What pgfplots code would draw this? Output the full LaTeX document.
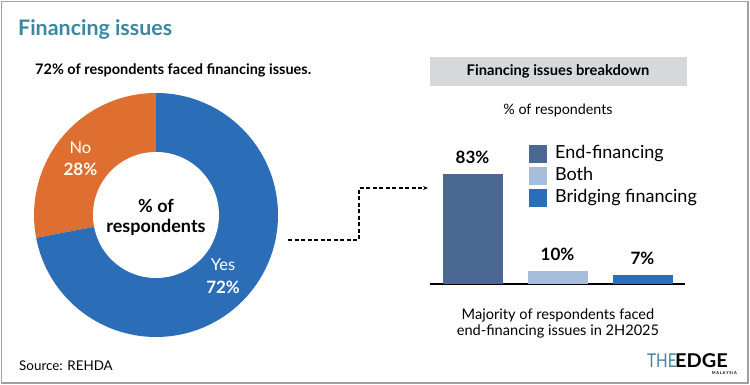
\documentclass[border=0pt]{standalone}
\usepackage{pgfplots}
\pgfplotsset{compat=1.18}
\usepackage{fontspec}
\setmainfont{Lato}
\usetikzlibrary{arrows.meta}
\definecolor{titleteal}{HTML}{3B87A1}
\definecolor{donutblue}{HTML}{2B6DB6}
\definecolor{donutorange}{HTML}{DE6F30}
\definecolor{barA}{HTML}{4A6893}
\definecolor{barB}{HTML}{A7BDDD}
\definecolor{barC}{HTML}{2A6DB8}
\definecolor{headgray}{HTML}{D6D8DA}
\definecolor{framegray}{HTML}{A0A0A0}
\newcommand{\fs}[1]{\fontsize{#1}{#1}\selectfont}
\def\yesval{72}
\def\noval{28}
\pgfmathsetmacro\noDelta{\noval*3.6}
\pgfmathsetmacro\yesDelta{-\yesval*3.6}
\begin{document}
\begin{tikzpicture}
\begin{scope}[x=1pt,y=1pt]
\path[use as bounding box] (0,0) rectangle (750,385);
\draw[framegray,line width=1.2pt] (1.5,2) rectangle (748,383.5);
% titles
\node[anchor=base west,inner sep=0,text=titleteal,font=\bfseries\fs{21.4}] at (18,349) {Financing issues};
\node[anchor=base west,inner sep=0,font=\bfseries\fs{14.5}] at (35,310) {72\% of respondents faced financing issues.};
\node[anchor=base west,inner sep=0,font=\fs{13.4}] at (19,14) {Source: REHDA};
% header box
\fill[headgray] (430,299) rectangle (687,328);
\node[font=\bfseries\fs{14.7}] at (558,313.5) {Financing issues breakdown};
\node[font=\fs{14.3}] at (558,275) {\% of respondents};
\node[font=\fs{14.6}] at (558,70) {Majority of respondents faced};
\node[font=\fs{14.6}] at (558,54) {end-financing issues in 2H2025};
% arrow
\draw[line width=1.3pt,dash pattern=on 4pt off 2.5pt,-{Stealth[length=5pt,width=4pt]}] (288,145) -- (359,145) -- (359,197) -- (428,197);
% logo
\node[anchor=base west,inner sep=0,text=titleteal,font=\fs{19}] at (647,17) {\addfontfeatures{FakeStretch=0.8}THE};
\node[anchor=base west,inner sep=0,font=\bfseries\fs{19}] at (675,17) {\addfontfeatures{FakeStretch=1.05}EDGE};
\node[anchor=base east,inner sep=0,font=\bfseries\fs{4}] at (737,10) {M\,A\,L\,A\,Y\,S\,I\,A};
\end{scope}
% donut
\begin{axis}[at={(156pt,170pt)},anchor=origin,width=244pt,height=244pt,scale only axis,
  xmin=-1,xmax=1,ymin=-1,ymax=1,hide axis,clip=false]
\fill[donutorange] (axis cs:0,0) -- +(90:122pt) arc[start angle=90,delta angle=\noDelta,radius=122pt] -- cycle;
\fill[donutblue] (axis cs:0,0) -- +(90:122pt) arc[start angle=90,delta angle=\yesDelta,radius=122pt] -- cycle;
\fill[white] (axis cs:0,0) circle[radius=63pt];
\node[text=white,font=\fs{16.5}] at (axis cs:-0.62,0.55) {No};
\node[text=white,font=\bfseries\fs{17}] at (axis cs:-0.62,0.37) {28\%};
\node[text=white,font=\fs{16.5}] at (axis cs:0.55,-0.41) {Yes};
\node[text=white,font=\bfseries\fs{17}] at (axis cs:0.55,-0.59) {72\%};
\node[font=\bfseries\fs{18}] at (axis cs:0,0.07) {\% of};
\node[font=\bfseries\fs{18}] at (axis cs:0,-0.10) {respondents};
\end{axis}
% bars
\begin{axis}[at={(430pt,101pt)},anchor=south west,width=255pt,height=132.5pt,scale only axis,
  xmin=-0.5,xmax=2.5,ymin=0,ymax=100,
  axis x line*=bottom,axis y line=none,xtick=\empty,
  axis line style={-,line width=1.5pt,black},
  ybar,bar width=60pt,
  nodes near coords={\pgfmathprintnumber[assume math mode=true]{\pgfplotspointmeta}\%},
  every node near coord/.append style={font=\bfseries\fs{17},inner sep=0pt,yshift=10pt},
  legend image code/.code={\fill[#1] (0pt,-9pt) rectangle (18pt,9pt);},
  legend cell align=left,
  legend style={at={(axis description cs:0.388,1.05)},anchor=north west,draw=none,fill=none,
    font=\fs{18},row sep=4.2pt,column sep=8pt,inner sep=0pt,
    nodes={inner sep=0pt,text height=13pt,text depth=4pt}},
  clip=false]
\addplot[fill=barA,draw=none,bar shift=0pt] coordinates {(0,83)};
\addplot[fill=barB,draw=none,bar shift=0pt] coordinates {(1,10)};
\addplot[fill=barC,draw=none,bar shift=0pt] coordinates {(2,7)};
\legend{End-financing,Both,Bridging financing}
\end{axis}
\end{tikzpicture}
\end{document}
